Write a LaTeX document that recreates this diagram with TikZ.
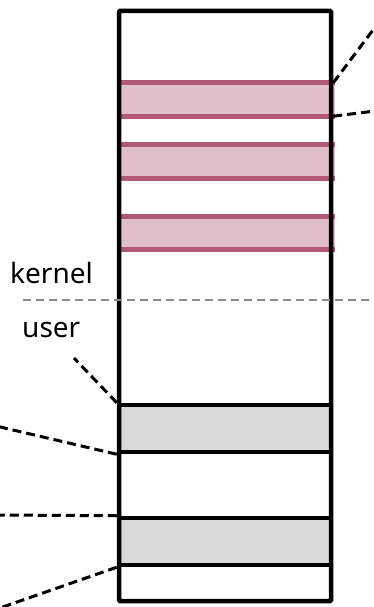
\documentclass[tikz,border=0pt]{standalone}
\usepackage{fontspec}
\setmainfont{Noto Sans}
\usepackage{tikz}
\usetikzlibrary{positioning}
\usepackage{xcolor}
\definecolor{kfill}{HTML}{E0BFCA}
\definecolor{kdraw}{HTML}{B05A76}
\definecolor{ufill}{HTML}{D9D9D9}
\definecolor{divgray}{HTML}{8C8C8C}

\begin{document}
\begin{tikzpicture}[x=1pt,y=1pt,on grid,
    memframe/.style={draw,line width=4.5pt,rounded corners=1pt,minimum width=212pt,minimum height=590pt,inner sep=0pt},
    kband/.style={fill=kfill,minimum width=214pt,minimum height=33pt,inner sep=0pt},
    kedge/.style={draw=kdraw,line width=5pt},
    uband/.style={draw,fill=ufill,line width=4.5pt,minimum width=212pt,minimum height=47pt,inner sep=0pt},
    lead/.style={draw,line width=3pt,dash pattern=on 9pt off 5pt},
    divider/.style={draw=divgray,line width=2.2pt,dash pattern=on 8pt off 5pt},
    lbl/.style={font=\fontsize{28}{30}\selectfont,inner sep=0pt,anchor=base west}]

        \useasboundingbox (0,0) rectangle (374,-607);

        % kernel side
        \node[kband]  (k1)  at (228,-99.5) {};
        \node[kband]  (k2) [below=62pt of k1] {};
        \node[kband]  (k3) [below=71.5pt of k2] {};
        \foreach \b in {k1,k2,k3} {
          \path[kedge] (\b.north west) -- (\b.north east);
          \path[kedge] (\b.south west) -- (\b.south east);
        }

        % user side
        \node[uband]  (u1)  at (225,-428.5) {};
        \node[uband]  (u2) [below=113pt of u1] {};

        \node[memframe] (mem) at (225,-306) {};

        \node[lbl] (kern) at (10,-283) {kernel};
        \node[lbl] (usr)  at (22,-337) {user};

        \coordinate (divl) at (23,-300);
        \coordinate (divr) at (372,-300);
        \path[divider] (divl) -- (divr);

        \coordinate (t1) at (379,-22);
        \coordinate (t2) at (379,-110.5);
        \coordinate (t3) at (74,-358);
        \coordinate (t4) at (-4,-426);
        \coordinate (t5) at (-4,-515);
        \coordinate (t6) at (-3,-609);

        \path[lead]
          (mem.east |- k1.north) -- (t1)
          (mem.east |- k1.south) -- (t2)
          (u1.north west) -- (t3)
          (u1.south west) -- (t4)
          (u2.north west) -- (t5)
          (u2.south west) -- (t6);

\end{tikzpicture}
\end{document}
